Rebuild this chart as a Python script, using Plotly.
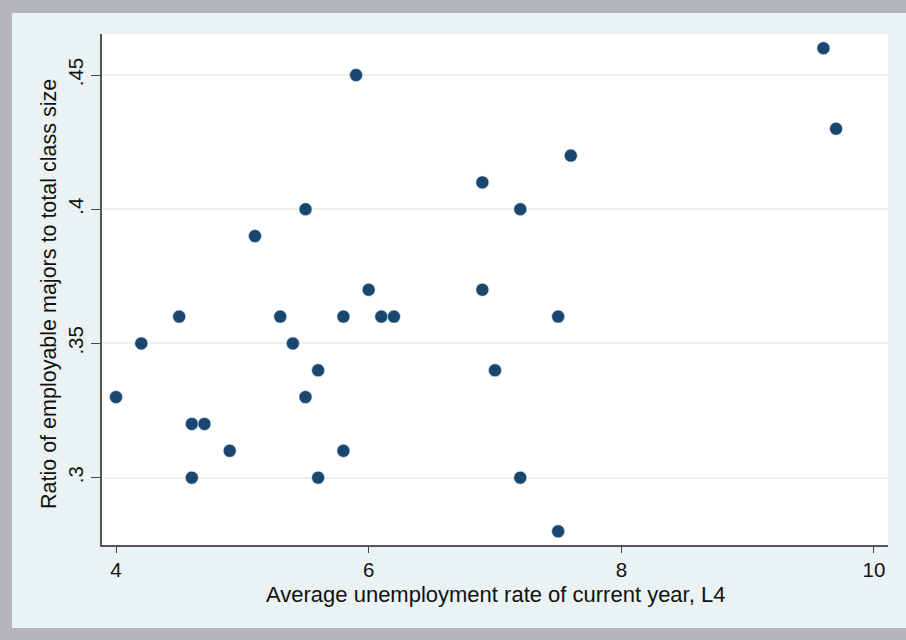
import plotly.graph_objects as go

# Average unemployment rate (lagged 4 years) and ratio of employable majors
unemployment = [4.0, 4.2, 4.5, 4.6, 4.7, 4.6, 4.9, 5.1, 5.3, 5.4, 5.5, 5.5, 5.6, 5.6, 5.8,
                5.8, 5.9, 6.0, 6.1, 6.2, 6.9, 6.9, 7.0, 7.2, 7.2, 7.5, 7.5, 7.6, 9.6, 9.7]
ratio = [0.33, 0.35, 0.36, 0.32, 0.32, 0.30, 0.31, 0.39, 0.36, 0.35, 0.40, 0.33, 0.34, 0.30, 0.36,
         0.31, 0.45, 0.37, 0.36, 0.36, 0.41, 0.37, 0.34, 0.40, 0.30, 0.36, 0.28, 0.42, 0.46, 0.43]

x_ticks = [4, 6, 8, 10]
y_ticks = [0.30, 0.35, 0.40, 0.45]
y_tick_text = [".3", ".35", ".4", ".45"]
x_title = "Average unemployment rate of current year, L4"
y_title = "Ratio of employable majors to total class size"

W, H = 906, 640
L, R, T, B = 102, 18, 34, 95
pw, ph = W - L - R, H - T - B

def px_x(p):
    return (p - L) / pw

def px_y(p):
    return 1 - (p - T) / ph

PANEL = "#eaf2f3"
NAVY = "#1a476f"
FONT = "Liberation Sans, Arial, sans-serif"
TICK_FONT = dict(family=FONT, size=20.5, color="#111111")

fig = go.Figure(go.Scatter(
    x=unemployment, y=ratio, mode="markers",
    marker=dict(size=13, color=NAVY, line=dict(width=0.6, color="#dfe7ee")),
    showlegend=False,
))

fig.update_layout(
    width=W, height=H,
    margin=dict(l=L, r=R, t=T, b=B),
    paper_bgcolor="#b3b5ba",
    plot_bgcolor="white",
    font=dict(family=FONT, size=18, color="#111111"),
    shapes=[
        dict(type="rect", xref="paper", yref="paper", layer="below",
             x0=px_x(12), x1=px_x(W + 5), y0=px_y(13), y1=px_y(628),
             fillcolor=PANEL, line=dict(width=0)),
        dict(type="rect", xref="paper", yref="paper", layer="below",
             x0=0, x1=1, y0=0, y1=1, fillcolor="white", line=dict(width=0)),
    ],
    annotations=[
        dict(text=x_title, xref="paper", yref="paper", x=px_x(495.5), y=px_y(594),
             xanchor="center", yanchor="middle", showarrow=False,
             font=dict(family=FONT, size=22, color="#111111")),
        dict(text=y_title, xref="paper", yref="paper", x=px_x(49), y=px_y(294),
             xanchor="center", yanchor="middle", showarrow=False, textangle=-90,
             font=dict(family=FONT, size=21.5, color="#111111")),
    ],
)

fig.update_xaxes(
    range=[3.889, 10.111], tickvals=x_ticks, showgrid=False, zeroline=False,
    showline=True, linecolor="#555555", linewidth=1.5,
    ticks="outside", ticklen=6, tickwidth=1.3, tickcolor="#444444",
    tickfont=TICK_FONT,
)
fig.update_yaxes(
    range=[0.2749, 0.4653], tickvals=y_ticks, ticktext=y_tick_text, tickangle=-90,
    showgrid=True, gridcolor=PANEL, gridwidth=1.5, zeroline=False,
    showline=True, linecolor="#555555", linewidth=1.5,
    ticks="outside", ticklen=9, tickwidth=1.3, tickcolor="#444444",
    tickfont=TICK_FONT,
)

fig.write_html("out.html")
